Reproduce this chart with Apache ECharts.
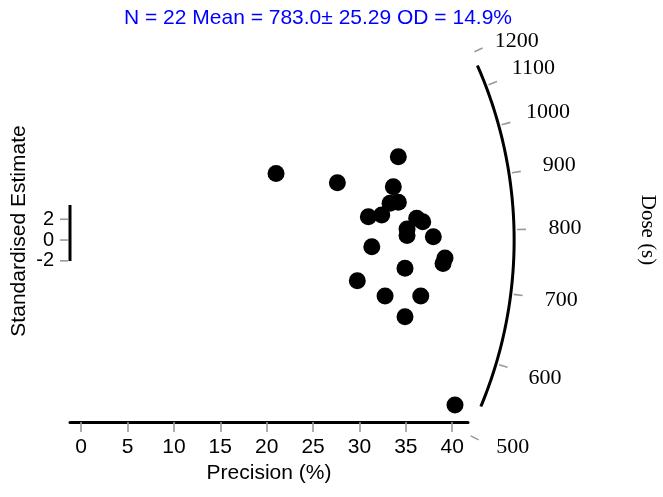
<!DOCTYPE html>
<html>
<head>
<meta charset="utf-8">
<script src="https://cdn.jsdelivr.net/npm/echarts@6/dist/echarts.min.js"></script>
<style>
  html, body { margin: 0; padding: 0; background: #fff; }
  #chart { width: 663px; height: 497px; }
</style>
</head>
<body>
<div id="chart"></div>
<script>
// Radial plot of equivalent doses: x = precision, y = standardised estimate.
const precision = [34.19, 21.01, 27.62, 33.65, 33.30, 34.19, 30.96, 32.40, 36.17, 36.82, 35.13,
                   35.13, 37.96, 31.33, 39.22, 39.01, 34.91, 29.77, 32.76, 36.61, 34.91, 40.30];
const stdEstimate = [8.01, 6.41, 5.51, 5.13, 3.53, 3.63, 2.24, 2.40, 2.09, 1.76, 1.06,
                     0.43, 0.32, -0.64, -1.73, -2.26, -2.72, -3.91, -5.38, -5.38, -7.38, -15.87];
const precisionTicks = [0, 5, 10, 15, 20, 25, 30, 35, 40];
const stdTicks = [-2, 0, 2];
const doseTicks = [500, 600, 700, 800, 900, 1000, 1100, 1200];
const centralDose = 783.0;
const doseArcRange = [540, 1160];
const titleText = 'N = 22 Mean = 783.0\u00b1 25.29 OD = 14.9%';

// layout constants
const X_MIN = -1.2, X_MAX = 41.7, Y_MIN = -17.5, Y_MAX = 20.2;
const STD_LINE_SPAN = [-2.02, 3.37];
const ARC_R = 433, TICK_R0 = 436, TICK_R1 = 445, LABEL_R = 484;
// labels of ticks beyond the arc ends sit a little closer to the arc
const OUTER_LABEL_R = 479, OUTER_LABEL_NUDGE_DEG = 1.0;
const SANS = 'Liberation Sans, Arial, sans-serif';
const SERIF = 'Liberation Serif, Times New Roman, serif';
const TICK_GREY = '#9a9a9a';

const chart = echarts.init(document.getElementById('chart'), null, { renderer: 'canvas' });

function doseDir(api, dose) {
  const o = api.coord([0, 0]);
  const p = api.coord([1, Math.log(dose / centralDose)]);
  const dx = p[0] - o[0], dy = p[1] - o[1];
  const len = Math.hypot(dx, dy);
  return [dx / len, dy / len];
}

function renderDoseAxis(params, api) {
  const o = api.coord([0, 0]);
  const children = [];
  // arc
  const pts = [];
  const n = 80;
  const l0 = Math.log(doseArcRange[0]), l1 = Math.log(doseArcRange[1]);
  for (let i = 0; i <= n; i++) {
    const d = Math.exp(l0 + (l1 - l0) * i / n);
    const u = doseDir(api, d);
    pts.push([o[0] + u[0] * ARC_R, o[1] + u[1] * ARC_R]);
  }
  children.push({ type: 'polyline', shape: { points: pts },
    style: { stroke: '#000', lineWidth: 3, fill: null } });
  // ticks + labels
  doseTicks.forEach(function (d) {
    const u = doseDir(api, d);
    children.push({ type: 'line',
      shape: { x1: o[0] + u[0] * TICK_R0, y1: o[1] + u[1] * TICK_R0,
               x2: o[0] + u[0] * TICK_R1, y2: o[1] + u[1] * TICK_R1 },
      style: { stroke: TICK_GREY, lineWidth: 1.6 } });
    let ang = Math.atan2(u[1], u[0]);
    let r = LABEL_R;
    if (d < doseArcRange[0] || d > doseArcRange[1]) {
      ang -= Math.sign(ang) * OUTER_LABEL_NUDGE_DEG * Math.PI / 180;
      r = OUTER_LABEL_R;
    }
    children.push({ type: 'text',
      x: o[0] + Math.cos(ang) * r, y: o[1] + Math.sin(ang) * r,
      style: { text: String(d), fill: '#000', fontSize: 22, fontFamily: SERIF,
               align: 'center', verticalAlign: 'middle' } });
  });
  return { type: 'group', children: children };
}

function renderStdAxis(params, api) {
  const a = api.coord([X_MIN, STD_LINE_SPAN[0]]);
  const b = api.coord([X_MIN, STD_LINE_SPAN[1]]);
  const children = [{ type: 'line', shape: { x1: a[0], y1: a[1], x2: b[0], y2: b[1] },
    style: { stroke: '#000', lineWidth: 3 } }];
  stdTicks.forEach(function (v) {
    const p = api.coord([X_MIN, v]);
    children.push({ type: 'line', shape: { x1: p[0] - 10, y1: p[1], x2: p[0] - 2, y2: p[1] },
      style: { stroke: TICK_GREY, lineWidth: 1.6 } });
    children.push({ type: 'text', x: p[0] - 16, y: p[1],
      style: { text: String(v), fill: '#000', fontSize: 20, fontFamily: SANS,
               align: 'right', verticalAlign: 'middle' } });
  });
  return { type: 'group', children: children };
}

chart.setOption({
  animation: false,
  backgroundColor: '#fff',
  grid: { left: 70, right: 195, top: 30, bottom: 75, containLabel: false },
  xAxis: {
    type: 'value', min: X_MIN, max: X_MAX,
    axisLine: { show: true, onZero: false, lineStyle: { color: '#000', width: 3 } },
    axisTick: { show: true, customValues: precisionTicks, length: 10,
                lineStyle: { color: TICK_GREY, width: 1.6 } },
    axisLabel: { customValues: precisionTicks, fontSize: 21, color: '#000',
                 fontFamily: SANS, margin: 15 },
    splitLine: { show: false },
    name: 'Precision (%)', nameLocation: 'middle', nameGap: 40,
    nameTextStyle: { fontSize: 21, color: '#000', fontFamily: SANS }
  },
  yAxis: {
    type: 'value', min: Y_MIN, max: Y_MAX, show: false
  },
  graphic: [
    { type: 'text', x: 318, y: 18,
      style: { text: titleText, fill: '#0000ff', fontSize: 21, fontFamily: SANS,
               align: 'center', verticalAlign: 'middle' } },
    { type: 'text', x: 19, y: 231, rotation: Math.PI / 2,
      style: { text: 'Standardised Estimate', fill: '#000', fontSize: 21, fontFamily: SANS,
               align: 'center', verticalAlign: 'middle' } },
    { type: 'text', x: 648, y: 230, rotation: -Math.PI / 2,
      style: { text: 'Dose (s)', fill: '#000', fontSize: 21, fontFamily: SERIF,
               align: 'center', verticalAlign: 'middle' } }
  ],
  series: [
    { type: 'custom', coordinateSystem: 'cartesian2d', clip: false, silent: true,
      data: [[0, 0]], renderItem: renderDoseAxis, z: 1 },
    { type: 'custom', coordinateSystem: 'cartesian2d', clip: false, silent: true,
      data: [[0, 0]], renderItem: renderStdAxis, z: 1 },
    { type: 'scatter', symbol: 'circle', symbolSize: 17, clip: false,
      itemStyle: { color: '#000', opacity: 1 }, z: 3,
      data: precision.map(function (x, i) { return [x, stdEstimate[i]]; }) }
  ]
});
</script>
</body>
</html>
